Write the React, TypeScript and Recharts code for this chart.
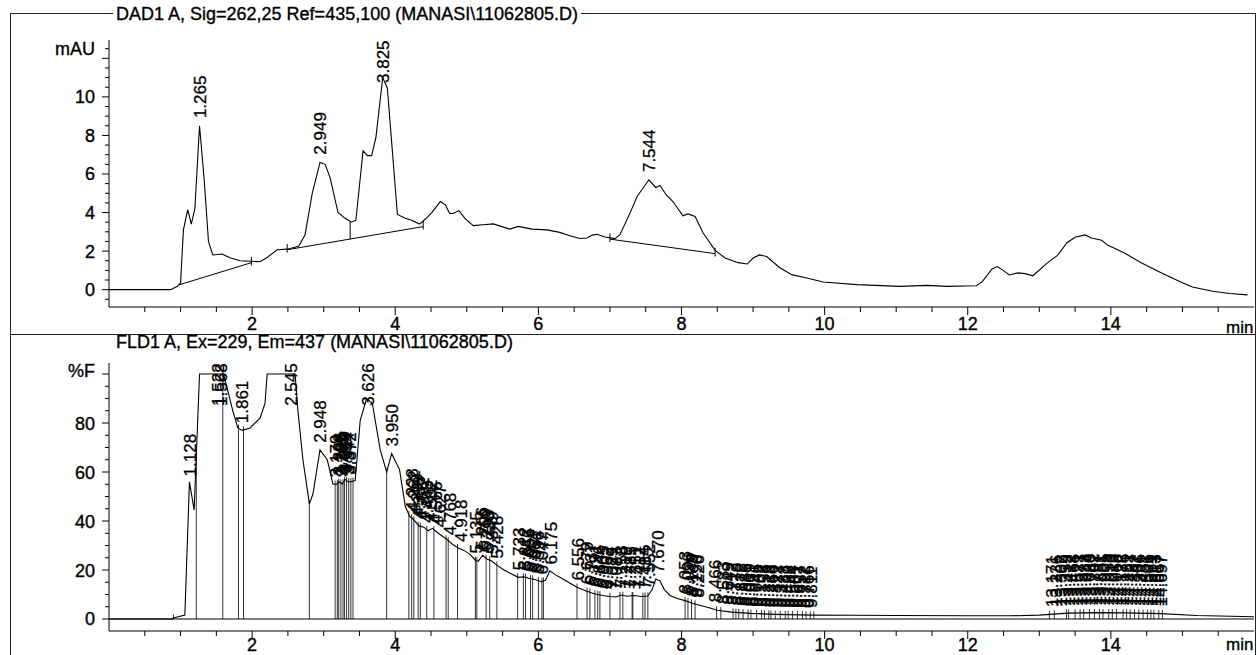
import { ComposedChart, Line, Scatter, XAxis, YAxis, ReferenceLine } from 'recharts';

const FONT = '"Liberation Sans", Arial, Helvetica, sans-serif';

// ---- DAD1 A signal (min / mAU) ----
const dadTime = [0, 0.86, 0.95, 1.0, 1.04, 1.1, 1.15, 1.2, 1.265, 1.33, 1.39, 1.45, 1.58, 1.69, 1.83, 2.11, 2.21, 2.35, 2.49, 2.65, 2.74, 2.84, 2.949, 3.02, 3.09, 3.2, 3.3, 3.39, 3.45, 3.55, 3.61, 3.67, 3.73, 3.825, 3.89, 4.03, 4.14, 4.23, 4.34, 4.42, 4.51, 4.63, 4.7, 4.76, 4.81, 4.89, 4.98, 5.09, 5.23, 5.37, 5.6, 5.72, 5.91, 6.12, 6.3, 6.44, 6.58, 6.68, 6.75, 6.82, 6.93, 7.07, 7.14, 7.28, 7.38, 7.544, 7.64, 7.7, 7.79, 7.88, 8.02, 8.09, 8.19, 8.3, 8.47, 8.61, 8.79, 8.92, 9.0, 9.09, 9.19, 9.37, 9.54, 9.75, 9.98, 10.45, 11.05, 11.43, 11.71, 12.12, 12.2, 12.34, 12.41, 12.48, 12.58, 12.7, 12.8, 12.91, 13.1, 13.25, 13.39, 13.5, 13.64, 13.73, 13.87, 13.96, 14.19, 14.43, 14.73, 15.0, 15.14, 15.42, 15.66, 15.91];
const dadMau = [0, 0, 0.16, 0.35, 3.1, 4.15, 3.4, 4.2, 8.5, 5.7, 2.5, 1.8, 1.85, 1.65, 1.5, 1.45, 1.67, 2.07, 2.1, 2.25, 2.85, 5.0, 6.6, 6.5, 5.8, 4.0, 3.7, 3.5, 3.6, 7.2, 6.95, 6.95, 7.9, 11.0, 10.45, 3.9, 3.7, 3.6, 3.4, 3.65, 4.0, 4.57, 4.4, 3.95, 3.95, 4.1, 3.67, 3.32, 3.37, 3.41, 3.14, 3.28, 3.14, 3.1, 2.97, 2.8, 2.65, 2.68, 2.83, 2.87, 2.73, 2.65, 2.85, 3.97, 4.83, 5.7, 5.3, 5.4, 4.9, 4.57, 3.83, 3.93, 3.8, 2.95, 2.04, 1.64, 1.4, 1.33, 1.64, 1.8, 1.72, 1.15, 0.78, 0.6, 0.4, 0.26, 0.17, 0.22, 0.17, 0.2, 0.4, 1.07, 1.2, 1.04, 0.76, 0.87, 0.83, 0.72, 1.35, 1.76, 2.45, 2.72, 2.84, 2.68, 2.56, 2.3, 1.9, 1.38, 0.83, 0.36, 0.14, -0.08, -0.2, -0.27];
const dadPeaks = [1.265, 2.949, 3.825, 7.544];
// integration baselines: [start min, start mAU, end min, end mAU]
const dadBaselines = [
  [0.98, 0.25, 1.99, 1.4],
  [2.49, 2.07, 4.39, 3.27],
  [7.0, 2.62, 8.47, 1.87],
];
const dadBaseMarks = [1.99, 2.49, 4.39, 7.0, 8.47];
const dadCuts = [3.37];

// ---- FLD1 A signal (min / %F) ----
const fldTime = [0, 0.88, 0.9, 1.06, 1.124, 1.19, 1.265, 1.6, 1.67, 1.73, 1.8, 1.86, 1.97, 2.11, 2.18, 2.21, 2.6, 2.64, 2.71, 2.8, 2.85, 2.948, 3.05, 3.13, 3.18, 3.22, 3.26, 3.3, 3.34, 3.38, 3.44, 3.51, 3.6, 3.68, 3.79, 3.88, 3.95, 4.06, 4.14, 4.2, 4.26, 4.33, 4.4, 4.46, 4.52, 4.58, 4.65, 4.72, 4.8, 4.88, 4.96, 5.04, 5.12, 5.16, 5.22, 5.28, 5.34, 5.42, 5.52, 5.62, 5.72, 5.8, 5.88, 5.96, 6.04, 6.1, 6.16, 6.24, 6.32, 6.42, 6.54, 6.66, 6.78, 6.9, 7.0, 7.08, 7.16, 7.24, 7.34, 7.44, 7.53, 7.59, 7.64, 7.7, 7.76, 7.84, 7.94, 8.05, 8.16, 8.28, 8.4, 8.5, 8.7, 8.96, 9.3, 9.84, 10.4, 11.0, 12.0, 12.6, 13.0, 13.4, 13.8, 14.2, 14.7, 15.2, 16.0];
const fldPct = [0, 0, 0.4, 1.6, 56, 44.5, 100, 100, 92, 85, 78, 77, 78, 82, 88, 100, 100, 85, 65, 47, 51, 69, 65, 55, 55, 56, 55, 57, 56, 56, 56.5, 81, 90, 88, 69, 60, 67.5, 61, 46, 42, 40.5, 38, 37.5, 36, 37, 35.5, 34, 32.5, 30.5, 29, 28, 26.5, 24, 23.5, 26, 24.5, 23.8, 22, 20, 18.5, 17, 17.2, 16.5, 16, 15.2, 15.8, 19.7, 18, 16.7, 15, 13, 11.5, 10.3, 9.6, 9.2, 9.0, 9.8, 9.3, 9.6, 9.2, 9.4, 12, 16.3, 15.5, 12, 9.6, 8.4, 7.5, 6.3, 5.4, 4.5, 3.6, 2.8, 2.3, 1.9, 1.6, 1.5, 1.4, 1.3, 1.3, 1.6, 2.4, 2.6, 2.5, 2.2, 1.4, 0.9];
const fldPeaks = [
  1.128, 1.522, 1.568, 1.861, 2.545, 2.948,
  3.179, 3.208, 3.236, 3.262, 3.289, 3.317, 3.344, 3.372,
  3.626, 3.950,
  4.228, 4.262, 4.299, 4.338, 4.392, 4.448, 4.502, 4.566, 4.627, 4.768, 4.918,
  5.135, 5.206, 5.259, 5.298, 5.349, 5.428,
  5.733, 5.812, 5.856, 5.904, 5.951, 5.996, 6.047, 6.175,
  6.556, 6.679, 6.737, 6.791, 6.846, 6.905, 6.962, 7.029, 7.083, 7.158, 7.219, 7.285, 7.351, 7.412, 7.484, 7.552, 7.670,
  8.053, 8.096, 8.149, 8.196, 8.226,
  8.466, 8.583, 8.649, 8.712, 8.770, 8.828, 8.885, 8.939, 8.991, 9.046, 9.102, 9.158, 9.213, 9.266, 9.322, 9.377, 9.433, 9.488, 9.544, 9.601, 9.657, 9.712, 9.766, 9.811,
  13.171, 13.236, 13.302, 13.359, 13.412, 13.468, 13.521, 13.577, 13.633, 13.688, 13.742, 13.797, 13.851, 13.905, 13.958, 14.013, 14.068, 14.122, 14.176, 14.231, 14.287, 14.342, 14.396, 14.451, 14.506, 14.561, 14.613, 14.657, 14.697,
];
// peak start/stop drop lines
const fldCuts = [
  0.9, 1.22, 1.59, 1.81, 1.88, 2.80,
  3.16, 3.19, 3.21, 3.24, 3.27, 3.29, 3.32, 3.35, 3.38, 3.41,
  3.88,
  4.19, 4.23, 4.26, 4.32, 4.35, 4.44, 4.54, 4.71, 4.74, 4.87,
  5.12, 5.14, 5.27, 5.32, 5.42,
  5.71, 5.79, 5.82, 5.89, 5.92, 6.00, 6.05, 6.07,
  6.54, 6.68, 6.72, 6.79, 6.83, 6.86, 7.00, 7.14, 7.18, 7.31, 7.32, 7.46, 7.49, 7.53,
  8.05, 8.09, 8.14, 8.19,
  8.49, 8.55, 8.72, 8.76, 8.80, 8.86, 8.93, 8.97, 9.05, 9.12, 9.16, 9.22, 9.25, 9.31, 9.38, 9.45, 9.49, 9.55, 9.62, 9.69, 9.74, 9.80, 9.85,
  13.14, 13.21, 13.38, 13.41, 13.50, 13.57, 13.62, 13.70, 13.77, 13.84, 13.89, 13.97, 14.02, 14.08, 14.17, 14.22, 14.27, 14.33, 14.39, 14.45, 14.51, 14.56, 14.60, 14.67, 14.72,
];

// axis ticks
const timeTicks = [0.5, 1, 1.5, 2, 2.5, 3, 3.5, 4, 4.5, 5, 5.5, 6, 6.5, 7, 7.5, 8, 8.5, 9, 9.5, 10, 10.5, 11, 11.5, 12, 12.5, 13, 13.5, 14, 14.5, 15, 15.5];
const mauTicks = [-0.5, 0, 0.5, 1, 1.5, 2, 2.5, 3, 3.5, 4, 4.5, 5, 5.5, 6, 6.5, 7, 7.5, 8, 8.5, 9, 9.5, 10, 10.5, 11, 11.5, 12, 12.5];
const mauLabels = [0, 2, 4, 6, 8, 10];
const pctTicks = [0, 5, 10, 15, 20, 25, 30, 35, 40, 45, 50, 55, 60, 65, 70, 75, 80, 85, 90, 95, 100];
const pctLabels = [0, 20, 40, 60, 80];

const interp = (xs: number[], ys: number[], t: number) => {
  if (t <= xs[0]) return ys[0];
  for (let i = 1; i < xs.length; i++) {
    if (t <= xs[i]) {
      const f = (t - xs[i - 1]) / (xs[i] - xs[i - 1]);
      return ys[i - 1] + f * (ys[i] - ys[i - 1]);
    }
  }
  return ys[ys.length - 1];
};

const baseAt = (t: number) => {
  for (const [t1, v1, t2, v2] of dadBaselines) {
    if (t >= t1 - 1e-6 && t <= t2 + 1e-6) return v1 + ((t - t1) / (t2 - t1)) * (v2 - v1);
  }
  return 0;
};

const dadData = dadTime.map((t, i) => ({ t, v: dadMau[i] }));
const fldData = fldTime.map((t, i) => ({ t, v: fldPct[i] }));

// retention-time labels sit just above the apex, pushed down so they stay under the top of the axis
const dadLabelData = dadPeaks.map((t) => ({ t, v: Math.min(interp(dadTime, dadMau, t) + 0.4, 10.72), label: t.toFixed(3) }));
const fldLabelData = fldPeaks.map((t) => ({ t, v: Math.min(interp(fldTime, fldPct, t) + 2.9, 87), label: t.toFixed(3) }));

// printed look: a hairline stroke darkens the glyphs a little
const INK = { fill: '#000', stroke: '#000', strokeWidth: 0.35 };

const timeTick = (labelDy: number) => ({ x, y, payload }: any) => {
  const v = payload.value;
  const major = v % 2 === 0;
  return (
    <g>
      <line x1={x} x2={x} y1={y} y2={y + (major ? 8 : 5)} stroke="#000" />
      {major && (
        <text x={x} y={y + labelDy} textAnchor="middle" fontSize={18} fontFamily={FONT} {...INK}>{v}</text>
      )}
    </g>
  );
};

const valueTick = (labels: number[], majorStep: number) => ({ x, y, payload }: any) => {
  const v = payload.value;
  const major = v % majorStep === 0;
  return (
    <g>
      <line x1={x} x2={x - (major ? 7 : 4)} y1={y} y2={y} stroke="#000" />
      {labels.includes(v) && (
        <text x={x - 14} y={y + 6.5} textAnchor="end" fontSize={18} fontFamily={FONT} {...INK}>{v}</text>
      )}
    </g>
  );
};

const PeakLabel = (props: any) => {
  const { cx, cy, payload } = props;
  const x = cx + 6;
  return (
    <text x={x} y={cy} transform={`rotate(-90 ${x} ${cy})`} fontSize={17} fontFamily={FONT} {...INK} strokeWidth={0.3}>
      {payload.label}
    </text>
  );
};

function DadPanel() {
  return (
    <ComposedChart width={1245} height={321} margin={{ top: 27, right: 1, bottom: 0, left: 0 }}>
      <XAxis type="number" dataKey="t" domain={[0, 16]} ticks={timeTicks} interval={0}
        allowDataOverflow height={27} tickSize={0} tickMargin={0} tickLine={false}
        axisLine={{ stroke: '#000' }} tick={timeTick(23)} />
      <YAxis type="number" domain={[-0.9, 12.95]} ticks={mauTicks} interval={0}
        allowDataOverflow width={99} tickSize={0} tickMargin={0} tickLine={false}
        axisLine={{ stroke: '#000' }} tick={valueTick(mauLabels, 2)} />
      {dadBaselines.map(([t1, v1, t2, v2], i) => (
        <ReferenceLine key={`b${i}`} segment={[{ x: t1, y: v1 }, { x: t2, y: v2 }]}
          stroke="#000" strokeWidth={1} ifOverflow="visible" />
      ))}
      {dadBaseMarks.map((t) => (
        <ReferenceLine key={`m${t}`} segment={[{ x: t, y: baseAt(t) - 0.15 }, { x: t, y: baseAt(t) + 0.3 }]}
          stroke="#000" strokeWidth={1} ifOverflow="visible" />
      ))}
      {dadCuts.map((t) => (
        <ReferenceLine key={`c${t}`} segment={[{ x: t, y: baseAt(t) }, { x: t, y: interp(dadTime, dadMau, t) }]}
          stroke="#000" strokeWidth={1} ifOverflow="visible" />
      ))}
      <Line data={dadData} dataKey="v" type="linear" dot={false} stroke="#000" strokeWidth={1.1}
        isAnimationActive={false} />
      <Scatter data={dadLabelData} dataKey="v" shape={PeakLabel} isAnimationActive={false} />
    </ComposedChart>
  );
}

function FldPanel() {
  return (
    <ComposedChart width={1245} height={321} margin={{ top: 29, right: 1, bottom: 0, left: 0 }}>
      <XAxis type="number" dataKey="t" domain={[0, 16]} ticks={timeTicks} interval={0}
        allowDataOverflow height={24} tickSize={0} tickMargin={0} tickLine={false}
        axisLine={{ stroke: '#000' }} tick={timeTick(20)} />
      <YAxis type="number" domain={[-4.9, 104.5]} ticks={pctTicks} interval={0}
        allowDataOverflow width={99} tickSize={0} tickMargin={0} tickLine={false}
        axisLine={{ stroke: '#000' }} tick={valueTick(pctLabels, 20)} />
      <ReferenceLine y={0} stroke="#000" strokeWidth={1} />
      {fldCuts.map((t) => (
        <ReferenceLine key={`c${t}`} segment={[{ x: t, y: 0 }, { x: t, y: interp(fldTime, fldPct, t) + 1.5 }]}
          stroke="#000" strokeWidth={0.8} ifOverflow="visible" />
      ))}
      <Line data={fldData} dataKey="v" type="linear" dot={false} stroke="#000" strokeWidth={1.1}
        isAnimationActive={false} />
      <Scatter data={fldLabelData} dataKey="v" shape={PeakLabel} isAnimationActive={false} />
    </ComposedChart>
  );
}

const textStyle = {
  position: 'absolute' as const, fontSize: 18, lineHeight: '18px', whiteSpace: 'nowrap' as const,
  WebkitTextStroke: '0.35px #000',
};

export default function App() {
  return (
    <div style={{ position: 'absolute', left: 0, top: 0, width: 1257, height: 655, overflow: 'hidden', background: '#fff', fontFamily: FONT, color: '#000' }}>
      <div style={{ position: 'absolute', left: 10, top: 13, width: 1246, height: 700, boxSizing: 'border-box', borderLeft: '1px solid #222', borderTop: '1px solid #222', borderRight: '1px solid #222' }} />
      <div style={{ position: 'absolute', left: 10, top: 334, width: 1246, height: 1, background: '#222' }} />
      <div style={{ position: 'absolute', left: 10, top: 13 }}><DadPanel /></div>
      <div style={{ position: 'absolute', left: 10, top: 334 }}><FldPanel /></div>

      <div style={{ ...textStyle, left: 113, top: 5, background: '#fff', padding: '0 3px' }}>
        DAD1 A, Sig=262,25 Ref=435,100 (MANASI\11062805.D)
      </div>
      <div style={{ ...textStyle, left: 116, top: 333 }}>
        FLD1 A, Ex=229, Em=437 (MANASI\11062805.D)
      </div>
      <div style={{ ...textStyle, left: 35, width: 60, textAlign: 'right', top: 40 }}>mAU</div>
      <div style={{ ...textStyle, left: 35, width: 60, textAlign: 'right', top: 362 }}>%F</div>
      <div style={{ ...textStyle, fontSize: 17, left: 1226, top: 319 }}>min</div>
      <div style={{ ...textStyle, fontSize: 17, left: 1226, top: 636 }}>min</div>
    </div>
  );
}
